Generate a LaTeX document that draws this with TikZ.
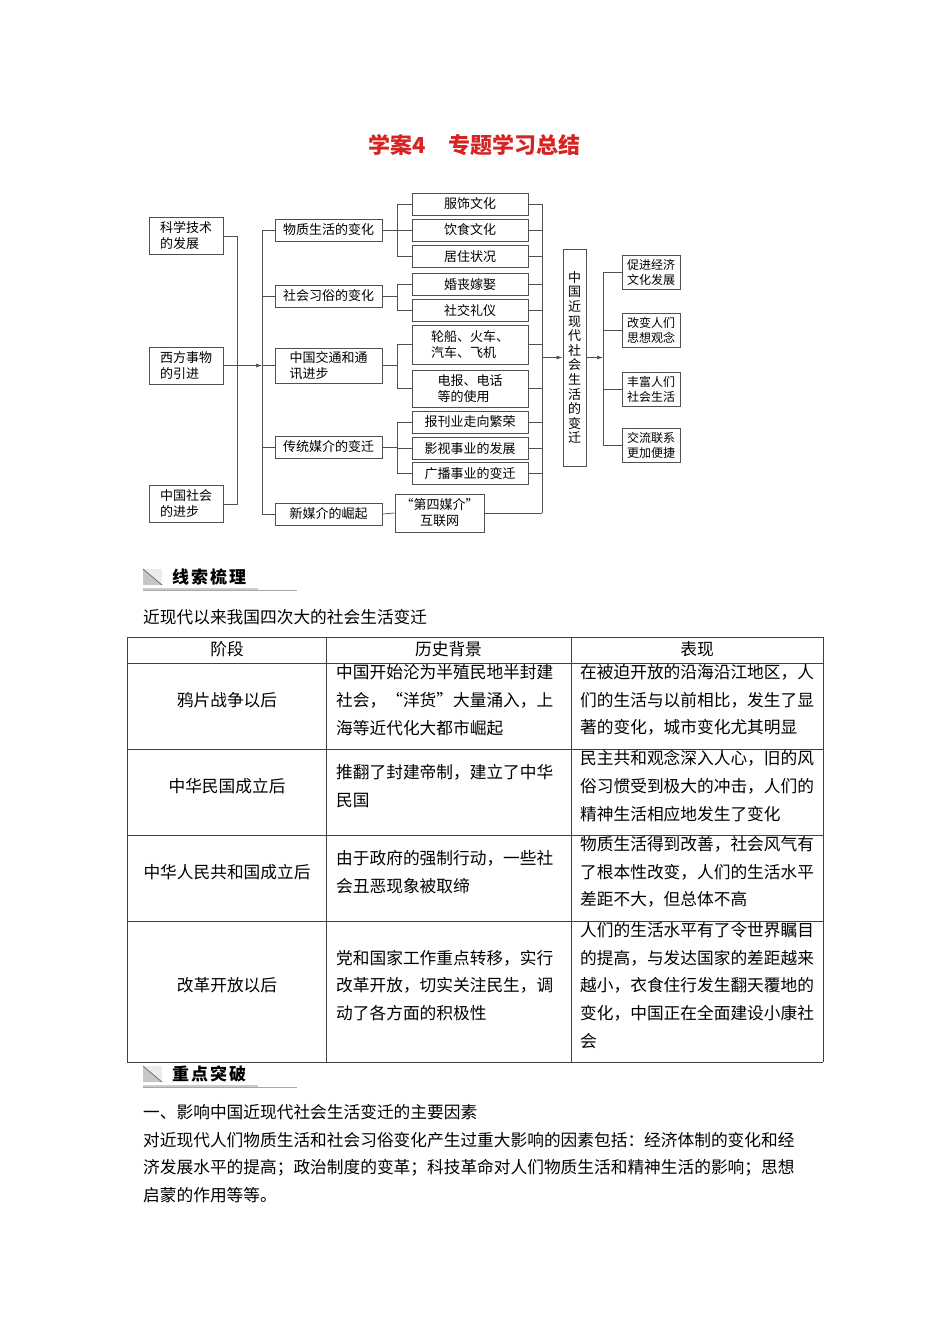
\documentclass[tikz,border=0pt]{standalone}
\usepackage{fontspec}
\setmainfont{Noto Sans CJK SC}
\usetikzlibrary{positioning,arrows.meta}
\definecolor{titlered}{RGB}{214,36,36}
\definecolor{linegray}{RGB}{80,80,80}
\newcommand{\dfont}{\fontsize{13}{16}\selectfont}
\newcommand{\bodyfont}{\fontsize{16.7}{27.7}\selectfont}
\tikzset{
box/.style={
draw=linegray,
line width=0.8pt,
font=\dfont,
align=center,
inner sep=1pt
},
leftbox/.style={box,minimum width=74pt,minimum height=37pt,align=left},
midbox/.style={box,minimum width=107pt,minimum height=22pt},
subbox/.style={box,minimum width=116pt,minimum height=22pt},
effbox/.style={box,minimum width=58pt,minimum height=34pt,align=left,font=\fontsize{12}{15}\selectfont},
conn/.style={draw=linegray,line width=0.7pt},
arrow/.style={
conn,
-{Latex[length=6pt,width=4pt]}
},
tabline/.style={draw=black!75,line width=0.8pt},
cell/.style={font=\bodyfont,inner sep=0pt,align=left},
headtext/.style={font=\fontsize{17}{20}\selectfont\bfseries,anchor=west,inner sep=0pt}
}

\begin{document}
\begin{tikzpicture}[x=1pt,y=-1pt]
\useasboundingbox (0,0) rectangle (950,1344);
\fill[white] (0,0) rectangle (950,1344);

\node[font=\fontsize{22}{26}\selectfont\bfseries,text=titlered](title) at (474.5,145){学案4\quad 专题学习总结};

% causes
\node[leftbox](sci) at (186,236){科学技术\\的发展};
\node[leftbox](west) at (186,365.5){西方事物\\的引进};
\node[leftbox](soc) at (186,504){中国社会\\的进步};

% aspects
\node[midbox](mat) at (328.5,230){物质生活的变化};
\node[midbox](cus) at (328.5,296){社会习俗的变化};
\node[midbox,minimum height=35pt,align=left](tra) at (328.5,365.5){中国交通和通\\讯进步};
\node[midbox](med) at (328.5,447){传统媒介的变迁};
\node[midbox](new) at (328.5,514){新媒介的崛起};

\node[subbox](dress) at (470,204){服饰文化};
\node[subbox](food) at (470,230){饮食文化};
\node[subbox](house) at (470,256.5){居住状况};
\node[subbox](wed) at (470,284.5){婚丧嫁娶};
\node[subbox](etiq) at (470,310.5){社交礼仪};
\node[subbox,minimum height=39pt,align=left](ship) at (470,344.5){轮船、火车、\\汽车、飞机};
\node[subbox,minimum height=37pt,align=left](tel) at (470,388.5){电报、电话\\等的使用};
\node[subbox](press) at (470,422){报刊业走向繁荣};
\node[subbox](film) at (470,448.5){影视事业的发展};
\node[subbox](radio) at (470,473.5){广播事业的变迁};
\node[box,minimum width=89pt,minimum height=38pt](net) at (439.5,513){“第四媒介”\\互联网};

\node[box,minimum width=23pt,minimum height=217pt,font=\fontsize{13}{14.6}\selectfont](big) at (574.5,357.5){中\\国\\近\\现\\代\\社\\会\\生\\活\\的\\变\\迁};

% effects
\node[effbox](econ) at (651,272){促进经济\\文化发展};
\node[effbox](idea) at (651,330){改变人们\\思想观念};
\node[effbox](life) at (651,389){丰富人们\\社会生活};
\node[effbox](comm) at (651,445.5){交流联系\\更加便捷};

\coordinate(lbar) at (237,0);
\coordinate(barL) at (262,0);
\coordinate(brk) at (397,0);
\coordinate(rbar) at (542,0);
\coordinate(rbar2) at (603,0);

\draw[conn](sci.east)--(sci.east-|lbar)|-(soc.east);
\draw[arrow](west.east)--(west.east-|barL);
\draw[conn](mat.west-|barL)--(new.west-|barL);
\foreach \n in {mat,cus,tra,med,new}
\draw[conn](\n.west)--(\n.west-|barL);

\foreach \p/\a/\b in {mat/dress/house,cus/wed/etiq,tra/ship/tel,med/press/radio}{
\draw[conn](\p.east)--(\p.east-|brk);
\draw[conn](\a.west-|brk)--(\b.west-|brk);
}
\foreach \c in {dress,food,house,wed,etiq,ship,tel,press,film,radio}
\draw[conn](\c.west-|brk)--(\c.west);
\draw[conn](new.east)--(net.west);

\foreach \c in {dress,food,house,wed,etiq,ship,tel,press,film,radio,net}
\draw[conn](\c.east)--(\c.east-|rbar);
\draw[conn](dress.east-|rbar)--(net.east-|rbar);
\draw[arrow](big.west-|rbar)--(big.west);
\draw[arrow](big.east)--(big.east-|rbar2);
\draw[conn](econ.west-|rbar2)--(comm.west-|rbar2);
\foreach \c in {econ,idea,life,comm}
\draw[conn](\c.west-|rbar2)--(\c.west);

% section heads
\foreach \y/\t [count=\i] in {577/线\hspace{2pt}索\hspace{2pt}梳\hspace{2pt}理,1074/重\hspace{2pt}点\hspace{2pt}突\hspace{2pt}破}{
\fill[gray!15](143,\y-8) rectangle (162,\y+8);
\fill[gray!45](143,\y-8)--(162,\y+8)--(143,\y+8)--cycle;
\draw[black!65,line width=0.6pt](143,\y-8)--(162,\y+8);
\node[headtext](head\i) at (172,\y){\t};
\draw[gray!40,line width=2.5pt](143,\y+12)--(258,\y+12);
\draw[gray!70,line width=0.5pt](143,\y+13.5)--(297,\y+13.5);
}

\node[cell,anchor=west](intro) at (143,617){近现代以来我国四次大的社会生活变迁};

% table
\foreach \x in {127,326,571,823}
\draw[tabline](\x,637)--(\x,1062);
\foreach \y in {637,663,749,835,921,1062}
\draw[tabline](127,\y)--(823,\y);

\node[cell](h1) at (227,649){阶段};
\node[cell](h2) at (448.5,649){历史背景};
\node[cell](h3) at (697,649){表现};

\node[cell](s1) at (227,700){鸦片战争以后};
\node[cell,anchor=west](b1) at (336,700){中国开始沦为半殖民地半封建\\社会，“洋货”大量涌入，上\\海等近代化大都市崛起};
\node[cell,anchor=west](p1) at (580,700){在被迫开放的沿海沿江地区，人\\们的生活与以前相比，发生了显\\著的变化，城市变化尤其明显};

\node[cell](s2) at (227,786){中华民国成立后};
\node[cell,anchor=west](b2) at (336,786){推翻了封建帝制，建立了中华\\民国};
\node[cell,anchor=west](p2) at (580,786){民主共和观念深入人心，旧的风\\俗习惯受到极大的冲击，人们的\\精神生活相应地发生了变化};

\node[cell](s3) at (227,872){中华人民共和国成立后};
\node[cell,anchor=west](b3) at (336,872){由于政府的强制行动，一些社\\会丑恶现象被取缔};
\node[cell,anchor=west](p3) at (580,872){物质生活得到改善，社会风气有\\了根本性改变，人们的生活水平\\差距不大，但总体不高};

\node[cell](s4) at (227,985.5){改革开放以后};
\node[cell,anchor=west](b4) at (336,985.5){党和国家工作重点转移，实行\\改革开放，切实关注民生，调\\动了各方面的积极性};
\node[cell,anchor=west](p4) at (580,985.5){人们的生活水平有了令世界瞩目\\的提高，与发达国家的差距越来\\越小，衣食住行发生翻天覆地的\\变化，中国正在全面建设小康社\\会};

\node[cell,anchor=west](para) at (143,1153.5){一、影响中国近现代社会生活变迁的主要因素\\对近现代人们物质生活和社会习俗变化产生过重大影响的因素包括：经济体制的变化和经\\济发展水平的提高；政治制度的变革；科技革命对人们物质生活和精神生活的影响；思想\\启蒙的作用等等。};
\end{tikzpicture}
\end{document}
